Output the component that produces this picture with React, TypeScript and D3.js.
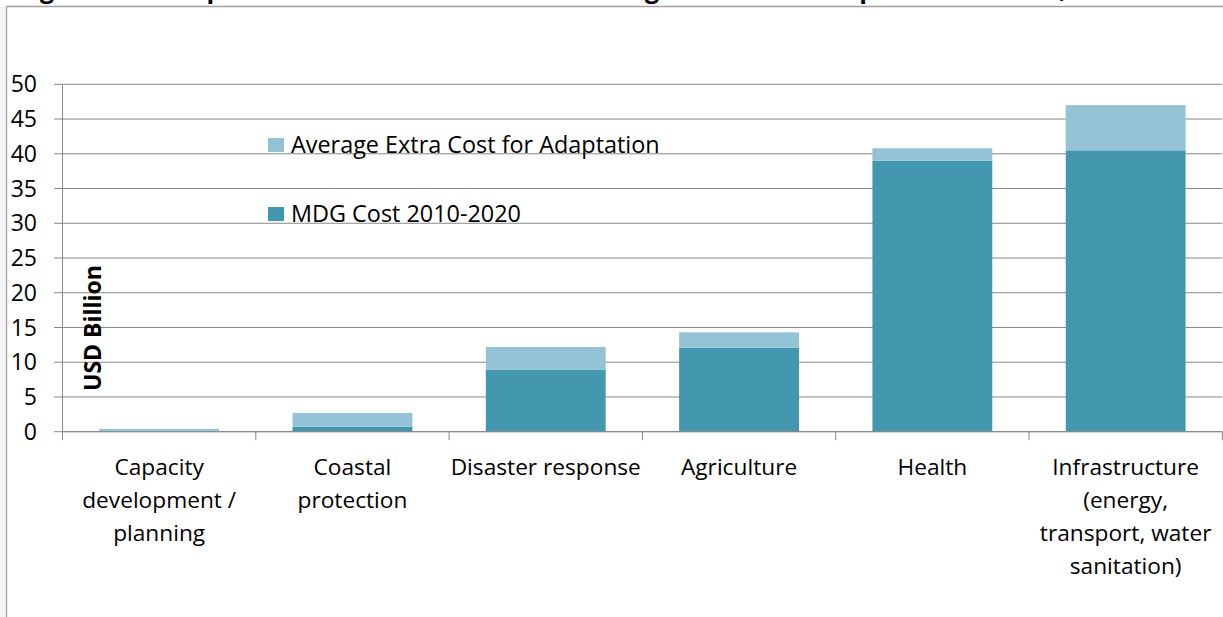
import React from "react";
import * as d3 from "d3";

// Sector categories and their wrapped axis labels
const categories = [
  "Capacity development / planning",
  "Coastal protection",
  "Disaster response",
  "Agriculture",
  "Health",
  "Infrastructure (energy, transport, water sanitation)",
];
const categoryLines = [
  ["Capacity", "development /", "planning"],
  ["Coastal", "protection"],
  ["Disaster response"],
  ["Agriculture"],
  ["Health"],
  ["Infrastructure", "(energy,", "transport, water", "sanitation)"],
];

// USD billion
const mdgCost = [0, 0.7, 8.9, 12.1, 39.0, 40.5];
const extraCost = [0.4, 2.0, 3.3, 2.2, 1.8, 6.5];

const seriesKeys = ["mdg", "extra"];
const seriesNames = ["MDG Cost 2010-2020", "Average Extra Cost for Adaptation"];
const seriesColors = ["#4398B0", "#93C3D4"];

const yTicks = [0, 5, 10, 15, 20, 25, 30, 35, 40, 45, 50];

const titleText =
  "Figure 4: Comparison of MDG Cost and Average Cost for Adaptation Needs, 2010-2020";

const W = 1223;
const H = 617;
const plot = { left: 62.5, right: 1222.3, top: 84.3, bottom: 431.7 };
const FONT = "'Open Sans', 'DejaVu Sans', sans-serif";
const GRID = "#888888";

export default function App() {
  const rows = categories.map((c, i) => ({ cat: c, mdg: mdgCost[i], extra: extraCost[i] }));
  const stacked = d3.stack<any>().keys(seriesKeys)(rows);

  const x = d3
    .scaleBand<string>()
    .domain(categories)
    .range([plot.left, plot.right])
    .paddingInner(0.38)
    .paddingOuter(0.19);
  const y = d3.scaleLinear().domain([0, 50]).range([plot.bottom, plot.top]);
  const step = x.step();
  const boundaries = d3.range(categories.length + 1).map((i) => plot.left + i * step);

  // legend, listed top-down with the upper series first
  const legendOrder = [1, 0];

  return (
    <div style={{ position: "fixed", left: 0, top: 0, width: W, height: H, background: "#fff" }}>
      <svg width={W} height={H} style={{ display: "block" }} fontFamily={FONT}>
        <rect x={0} y={0} width={W} height={H} fill="#ffffff" />
        {/* page frame */}
        <rect x={0} y={7} width={5} height={H - 7} fill="#f3f3f3" />
        <line x1={6.5} y1={6.5} x2={W} y2={6.5} stroke="#a0a0a0" strokeWidth={1.5} />
        <line x1={6.5} y1={6.5} x2={6.5} y2={H} stroke="#a8a8a8" strokeWidth={1.5} />
        <text
          x={15}
          y={-2}
          fontSize={25}
          fontWeight={700}
          fill="#000"
          textLength={1198}
          lengthAdjust="spacing"
        >
          {titleText}
        </text>

        {/* gridlines */}
        {yTicks.map((t) => (
          <line
            key={"g" + t}
            x1={plot.left}
            x2={plot.right}
            y1={y(t)}
            y2={y(t)}
            stroke={GRID}
            strokeWidth={1}
          />
        ))}

        {/* y axis */}
        <line x1={plot.left} x2={plot.left} y1={y(50)} y2={y(0)} stroke={GRID} />
        {yTicks.map((t) => (
          <g key={"yt" + t}>
            <line x1={plot.left - 8.5} x2={plot.left} y1={y(t)} y2={y(t)} stroke={GRID} />
            <text
              x={37}
              y={y(t)}
              dy="0.35em"
              textAnchor="end"
              fontSize={23}
              fill="#000"
            >
              {t}
            </text>
          </g>
        ))}

        {/* bars */}
        {stacked.map((s, si) => (
          <g key={s.key} fill={seriesColors[si]}>
            {s.map((d, i) => (
              <rect
                key={i}
                x={x(categories[i])}
                width={x.bandwidth()}
                y={y(d[1])}
                height={Math.max(0, y(d[0]) - y(d[1]))}
              />
            ))}
          </g>
        ))}

        {/* x axis */}
        <line x1={plot.left} x2={plot.right} y1={y(0)} y2={y(0)} stroke={GRID} />
        {boundaries.map((bx, i) => (
          <line key={"xt" + i} x1={bx} x2={bx} y1={y(0)} y2={y(0) + 8.5} stroke={GRID} />
        ))}
        {categories.map((c, i) => (
          <text
            key={"xl" + i}
            x={(x(c) as number) + x.bandwidth() / 2}
            y={475}
            textAnchor="middle"
            fontSize={22.7}
            fill="#000"
          >
            {categoryLines[i].map((ln, j) => (
              <tspan key={j} x={(x(c) as number) + x.bandwidth() / 2} dy={j === 0 ? 0 : 33}>
                {ln}
              </tspan>
            ))}
          </text>
        ))}

        {/* y axis title */}
        <text
          transform={`translate(101,328) rotate(-90)`}
          textAnchor="middle"
          fontSize={23}
          fontWeight={700}
          fill="#000"
        >
          USD Billion
        </text>

        {/* legend */}
        {legendOrder.map((si, k) => (
          <g key={"lg" + si} transform={`translate(268,${138 + k * 69})`}>
            <rect x={0} y={0} width={16} height={14} fill={seriesColors[si]} />
            <text x={23} y={7} dy="0.35em" fontSize={23.4} fill="#000">
              {seriesNames[si]}
            </text>
          </g>
        ))}
      </svg>
    </div>
  );
}
